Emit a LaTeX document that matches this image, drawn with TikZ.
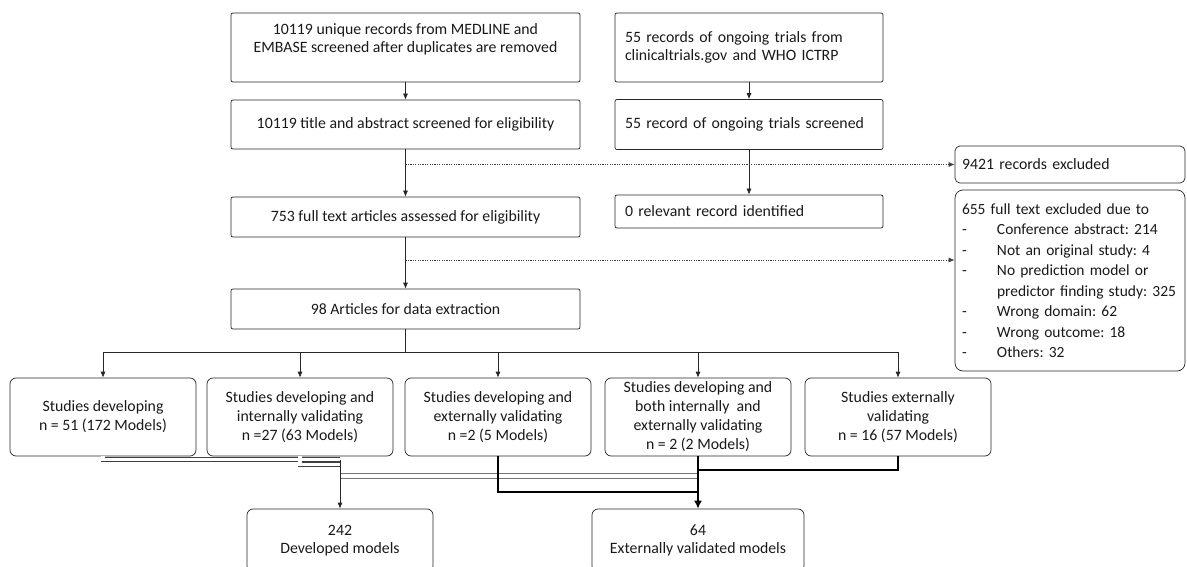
\documentclass[tikz,border=0pt]{standalone}
\usepackage{fontspec}
\setmainfont{Carlito}
\frenchspacing
\usetikzlibrary{arrows.meta}
\begin{document}
\begin{tikzpicture}[x=1pt,y=-1pt,
  box/.style={draw=black!85, line width=0.7pt, rounded corners=2pt, inner sep=0pt,
    text=black!90, font=\fontsize{15.8}{18}\selectfont, align=center},
  lbox/.style={box, align=left, inner xsep=10pt},
  rbox/.style={box, rounded corners=6pt, font=\fontsize{15.8}{19}\selectfont},
  arr/.style={draw=black!85, line width=0.7pt, -{Latex[length=6pt,width=5pt]}},
  dotarr/.style={draw=black!75, line width=0.7pt, dash pattern=on 1.2pt off 1.2pt, -{Latex[length=6pt,width=5pt]}},
  dbl/.style={draw=black!75, line width=0.7pt, double=white, double distance=3.5pt},
  dblgray/.style={draw=black!55, line width=0.8pt, double=white, double distance=3.5pt},
  thk/.style={draw=black, line width=2.4pt},
  thkarr/.style={thk, -{Latex[length=8pt,width=8pt]}}
]
\useasboundingbox (0,0) rectangle (1187,567);

% left column
\node[box, minimum width=349pt, minimum height=69pt] (A) at (405.5,47.5)
  {10119 unique records from MEDLINE and\\EMBASE screened after duplicates are removed\\~};
\node[box, minimum width=349pt, minimum height=49pt] (B) at (405.5,124.5)
  {10119 title and abstract screened for eligibility};
\node[box, minimum width=349pt, minimum height=40pt] (C) at (405.5,217)
  {753 full text articles assessed for eligibility};
\node[box, minimum width=349pt, minimum height=40pt] (D) at (405.5,309)
  {98 Articles for data extraction};

% right column
\node[lbox, text width=248pt, minimum height=69pt] (E) at (749,47.5)
  {55 records of ongoing trials from\\clinicaltrials.gov and WHO ICTRP};
\node[lbox, text width=248pt, minimum height=50pt] (F) at (749,124.5)
  {55 record of ongoing trials screened};
\node[lbox, text width=248pt, minimum height=33pt] (G) at (749,211.5)
  {0 relevant record identified};

% exclusions
\node[box, align=left, inner xsep=7pt, text width=216pt, minimum height=37pt, rounded corners=5pt] (H) at (1070,164.5)
  {9421 records excluded};
\node[box, align=left, inner xsep=7pt, text width=216pt, minimum height=181pt, rounded corners=8pt,
  font=\fontsize{15.5}{20.5}\selectfont] (I) at (1070,280.5)
  {655 full text excluded due to\\
   \makebox[35pt][l]{-}Conference abstract: 214\\
   \makebox[35pt][l]{-}Not an original study: 4\\
   \makebox[35pt][l]{-}No prediction model or\\
   \hspace*{35pt}predictor finding study: 325\\
   \makebox[35pt][l]{-}Wrong domain: 62\\
   \makebox[35pt][l]{-}Wrong outcome: 18\\
   \makebox[35pt][l]{-}Others: 32};

% study types
\node[rbox, minimum width=186pt, minimum height=78pt] (J1) at (103,417)
  {Studies developing\\n = 51 (172 Models)};
\node[rbox, minimum width=186pt, minimum height=78pt] (J2) at (300,417)
  {Studies developing and\\internally validating\\n =27 (63 Models)};
\node[rbox, minimum width=186pt, minimum height=78pt] (J3) at (498,417)
  {Studies developing and\\externally validating\\n =2 (5 Models)};
\node[rbox, minimum width=186pt, minimum height=78pt] (J4) at (698,417)
  {Studies developing and\\both internally \ and\\externally validating\\n = 2 (2 Models)};
\node[rbox, minimum width=186pt, minimum height=78pt] (J5) at (898,417)
  {Studies externally\\validating\\n = 16 (57 Models)};

% results (bottom edges run off the page, as in the original)
\node[rbox, font=\fontsize{15.8}{18}\selectfont, minimum width=186pt, minimum height=63pt] (K1) at (340,540.5)
  {242\\Developed models};
\node[rbox, font=\fontsize{15.8}{18}\selectfont, minimum width=212pt, minimum height=63pt] (K2) at (698,540.5)
  {64\\Externally validated models};

% main flow
\draw[arr] (A) -- (B);
\draw[arr] (B) -- (C);
\draw[arr] (C) -- (D);
\draw[arr] (E) -- (F);
\draw[arr] (F) -- (G);
\draw[dotarr] (B.south |- H.west) -- (H.west);
\coordinate (x2) at (405.5,260);
\draw[dotarr] (x2) -- (x2 -| I.west);

\foreach \j in {J1,J2,J3,J4,J5}
  \draw[arr] (D.south) -- ++(0,23) -| (\j.north);

% bottom connectors
\coordinate (m1) at (340,459.5);
\coordinate (m2) at (340,464.5);
\coordinate (g1) at (698,476);
\coordinate (g2) at (340,476);
\draw[dbl] (J1.south) |- (m1);
\draw[dbl] (J2.south) |- (m2);
\draw[dblgray] (g1) -- (g2);
\draw[arr] (m1) -- (K1.north);
\coordinate (t3) at (698,492);
\coordinate (t5) at (698,470);
\draw[thk] (J3.south) |- (t3);
\draw[thk] (J5.south) |- (t5);
\draw[thkarr] (J4.south) -- (K2.north);
\end{tikzpicture}
\end{document}
